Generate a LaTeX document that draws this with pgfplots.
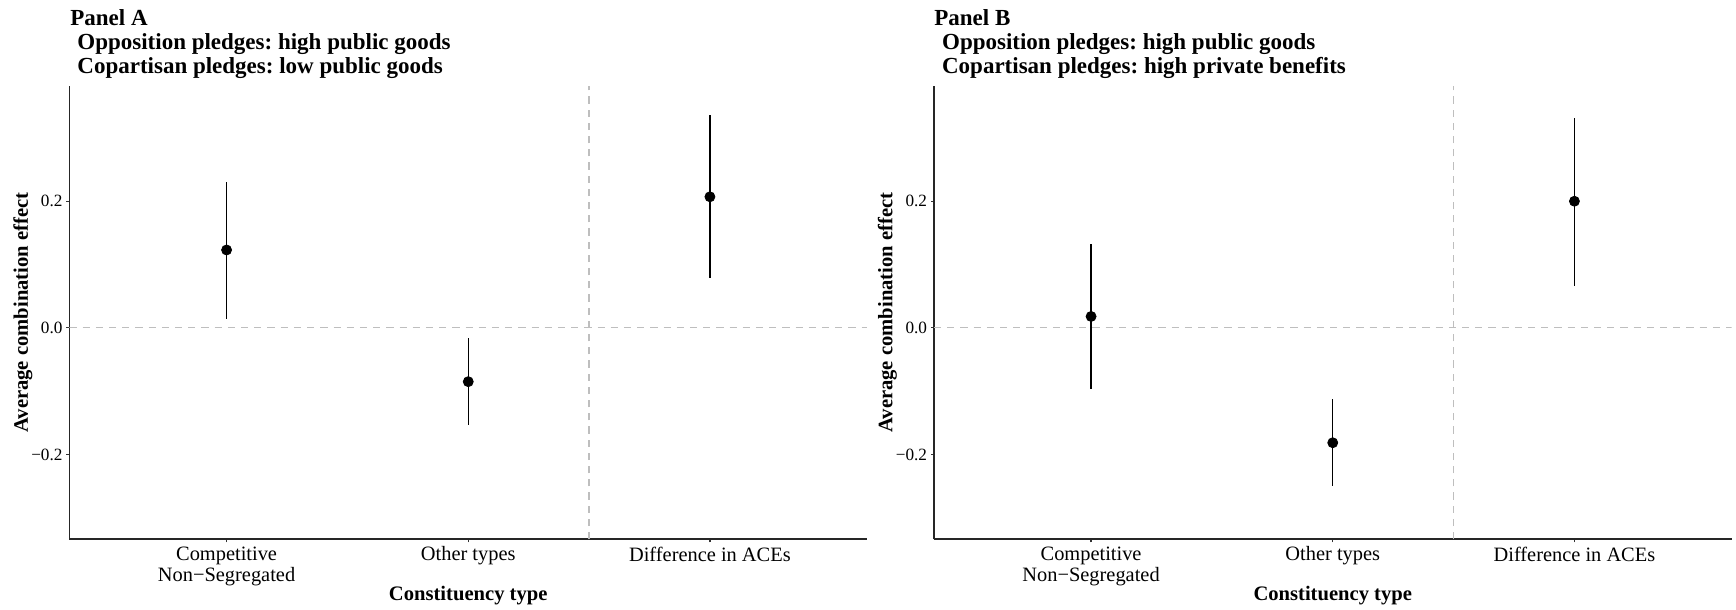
\documentclass[border=0pt]{standalone}
\usepackage{fontspec}
\setmainfont{Liberation Serif}
\usepackage{pgfplots}
\pgfplotsset{compat=1.18}
\usepackage{pgfplotstable}
\frenchspacing

\definecolor{refgray}{HTML}{BEBEBE}

\pgfplotstableread{
x y ep em
1 0.123 0.108 0.109
2 -0.085 0.069 0.068
3 0.207 0.129 0.128
}\dataA
\pgfplotstableread{
x y ep em
1 0.018 0.115 0.114
2 -0.1815 0.0685 0.0685
3 0.200 0.131 0.1335
}\dataB

\pgfplotsset{
 panel/.style={
  scale only axis, width=398.75pt, height=226.65pt,
  xmin=0.35, xmax=3.65, ymin=-0.334, ymax=0.382,
  axis x line=bottom, axis y line=left,
  axis line style={-, line width=0.8pt, black!85},
  every outer x axis line/.append style={-},
  every outer y axis line/.append style={-},
  xtick={1,2,3},
  xticklabels={{Competitive\\Non−Segregated},{Other types},{Difference in ACEs}},
  ytick={-0.2,0,0.2},
  yticklabels={−0.2,0.0,0.2},
  tick align=outside, major tick length=1.5pt,
  tick style={line width=0.6pt, black!80},
  xticklabel style={font=\fontsize{10.2}{10.85}\selectfont, align=center, anchor=north, inner sep=0pt, yshift=-2pt},
  yticklabel style={font=\fontsize{8.6}{10}\selectfont, anchor=east, inner sep=0pt, xshift=-1.8pt},
  xlabel={Constituency type},
  ylabel={Average combination effect},
  label style={font=\fontsize{10.3}{12}\selectfont\bfseries},
  xlabel style={at={(axis description cs:0.5,-0.1361)}, anchor=base},
  ylabel style={at={(axis description cs:-0.0583,0.5)}, anchor=center},
 },
 refline/.style={refgray, line width=0.65pt, dash pattern=on 3.6pt off 3pt, forget plot},
 pts/.style={black, only marks, mark=*, mark size=2.5pt,
   error bars/.cd, y dir=both, y explicit, error mark=none,
   error bar style={line width=0.7pt, black}},
}

\begin{document}
\begin{tikzpicture}
\useasboundingbox (-34.75pt,-35.35pt) rectangle (833.25pt,269.65pt);
\begin{axis}[panel]
\addplot[refline] coordinates {(0.35,0) (3.65,0)};
\addplot[refline] coordinates {(2.5,-0.334) (2.5,0.382)};
\addplot[pts] table[x=x, y=y, y error plus=ep, y error minus=em]{\dataA};
\end{axis}
\begin{axis}[panel, at={(432.25pt,0pt)}]
\addplot[refline] coordinates {(0.35,0) (3.65,0)};
\addplot[refline] coordinates {(2.5,-0.334) (2.5,0.382)};
\addplot[pts] table[x=x, y=y, y error plus=ep, y error minus=em]{\dataB};
\end{axis}
\begin{scope}[every node/.style={anchor=base west, inner sep=0pt, font=\fontsize{11.5}{12}\selectfont\bfseries}]
\node at (0.25pt,256.65pt) {Panel A};
\node at (3.75pt,244.65pt) {Opposition pledges: high public goods};
\node at (3.75pt,232.65pt) {Copartisan pledges: low public goods};
\node at (432.25pt,256.65pt) {Panel B};
\node at (436.1pt,244.65pt) {Opposition pledges: high public goods};
\node at (436.1pt,232.65pt) {Copartisan pledges: high private benefits};
\end{scope}
\end{tikzpicture}
\end{document}
